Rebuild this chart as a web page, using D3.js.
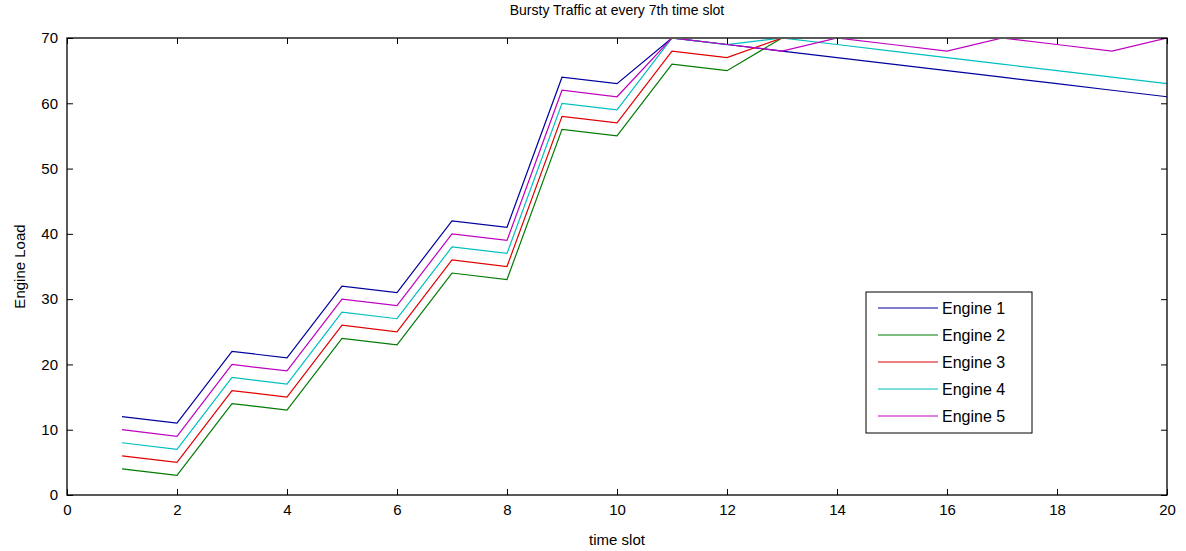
<!DOCTYPE html>
<html>
<head>
<meta charset="utf-8">
<script src="https://cdn.jsdelivr.net/npm/d3@7"></script>
<style>
  body { margin: 0; background: #fff; }
  text { font-family: "Liberation Sans", Arial, sans-serif; fill: #000; }
</style>
</head>
<body>
<div id="chart"></div>
<script>
var timeSlots = d3.range(1, 21)
var engineNames = ['Engine 1', 'Engine 2', 'Engine 3', 'Engine 4', 'Engine 5']
var engine1 = [12, 11, 22, 21, 32, 31, 42, 41, 64, 63, 70, 69, 68, 67, 66, 65, 64, 63, 62, 61]
var engine2 = [4, 3, 14, 13, 24, 23, 34, 33, 56, 55, 66, 65, 70, 70, 70, 70, 70, 70, 70, 70]
var engine3 = [6, 5, 16, 15, 26, 25, 36, 35, 58, 57, 68, 67, 70, 70, 70, 70, 70, 70, 70, 70]
var engine4 = [8, 7, 18, 17, 28, 27, 38, 37, 60, 59, 70, 69, 70, 69, 68, 67, 66, 65, 64, 63]
var engine5 = [10, 9, 20, 19, 30, 29, 40, 39, 62, 61, 70, 69, 68, 70, 69, 68, 70, 69, 68, 70]
var xTicks = d3.range(0, 21, 2)
var yTicks = d3.range(0, 71, 10)

var colors = ['#00009e', '#007a00', '#e00000', '#00bfbf', '#bf00bf']
var series = [engine1, engine2, engine3, engine4, engine5]

var width = 1186, height = 551
var margin = {top: 38, right: 19, bottom: 56, left: 67}
var w = width - margin.left - margin.right,
    h = height - margin.top - margin.bottom

var x = d3.scaleLinear().domain([0, 20]).range([0, w])
var y = d3.scaleLinear().domain([0, 70]).range([h, 0])

var svg = d3.select('#chart').append('svg')
  .attr('width', width)
  .attr('height', height)

// clip a hair inside the box so lines sitting at 70 hide under the border
svg.append('defs').append('clipPath')
  .attr('id', 'clip')
  .append('rect')
  .attr('y', 1)
  .attr('width', w)
  .attr('height', h - 1)

var g = svg.append('g')
  .attr('transform', 'translate(' + margin.left + ',' + margin.top + ')')

// lines
var line = d3.line()
  .x(function(d, i) {return x(timeSlots[i])})
  .y(function(d) {return y(d)})

g.append('g')
  .attr('clip-path', 'url(#clip)')
  .selectAll('path')
  .data(series)
  .enter()
  .append('path')
  .attr('d', line)
  .attr('fill', 'none')
  .attr('stroke', function(d, i) {return colors[i]})
  .attr('stroke-width', 1.2)

// axes, ticks inside like matlab
function styleAxis(sel) {
  sel.select('.domain').remove()
  sel.selectAll('.tick line').attr('stroke', '#000')
  sel.selectAll('text').style('font-size', '15px').style('font-family', '"Liberation Sans", Arial, sans-serif')
}

g.append('g')
  .attr('transform', 'translate(0,' + h + ')')
  .call(d3.axisBottom(x).tickValues(xTicks).tickSize(-6).tickPadding(9))
  .call(styleAxis)

g.append('g')
  .call(d3.axisTop(x).tickValues(xTicks).tickSize(-6).tickFormat(''))
  .call(styleAxis)

g.append('g')
  .call(d3.axisLeft(y).tickValues(yTicks).tickSize(-6).tickPadding(9))
  .call(styleAxis)

g.append('g')
  .attr('transform', 'translate(' + w + ',0)')
  .call(d3.axisRight(y).tickValues(yTicks).tickSize(-6).tickFormat(''))
  .call(styleAxis)

g.append('rect')
  .attr('width', w)
  .attr('height', h)
  .attr('fill', 'none')
  .attr('stroke', '#000')
  .attr('stroke-width', 1.3)

// labels
svg.append('text')
  .attr('x', margin.left + w / 2)
  .attr('y', 15)
  .attr('text-anchor', 'middle')
  .style('font-size', '14px')
  .text('Bursty Traffic at every 7th time slot')

svg.append('text')
  .attr('x', margin.left + w / 2)
  .attr('y', 545)
  .attr('text-anchor', 'middle')
  .style('font-size', '15px')
  .text('time slot')

svg.append('text')
  .attr('transform', 'translate(25,' + (margin.top + h / 2) + ') rotate(-90)')
  .attr('text-anchor', 'middle')
  .style('font-size', '15px')
  .text('Engine Load')

// legend
var legend = svg.append('g').attr('transform', 'translate(866,292)')
legend.append('rect')
  .attr('width', 166)
  .attr('height', 141)
  .attr('fill', '#fff')
  .attr('stroke', '#000')

var item = legend.selectAll('.item')
  .data(engineNames)
  .enter()
  .append('g')
  .attr('class', 'item')
  .attr('transform', function(d, i) {return 'translate(0,' + (16 + i * 27) + ')'})

item.append('line')
  .attr('x1', 12)
  .attr('x2', 72)
  .attr('stroke', function(d, i) {return colors[i]})
  .attr('stroke-width', 1.2)

item.append('text')
  .attr('x', 76)
  .attr('dy', '0.35em')
  .style('font-size', '16px')
  .text(function(d) {return d})
</script>
</body>
</html>
